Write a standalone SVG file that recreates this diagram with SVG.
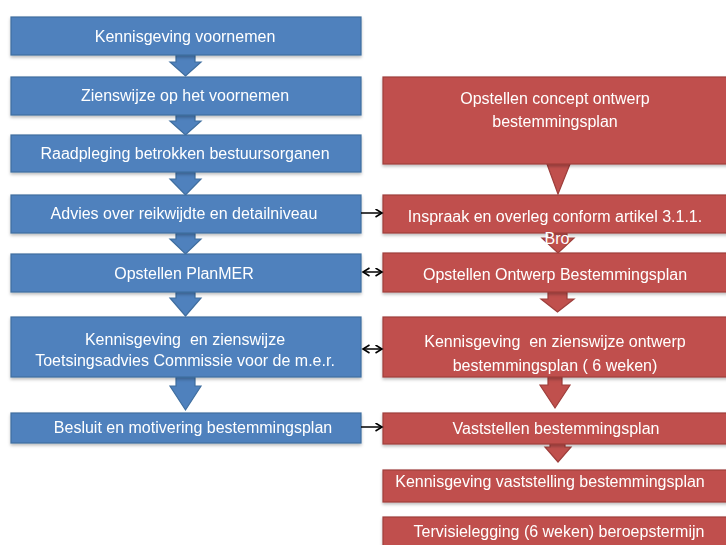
<svg xmlns="http://www.w3.org/2000/svg" width="726" height="545" viewBox="0 0 726 545">
<defs>
<style>
.b{fill:#4F81BD;stroke:#3F6E9F;stroke-width:1.2}
.r{fill:#C0504D;stroke:#9E3E3B;stroke-width:1.2}
.t{font-family:"Liberation Sans",Arial,sans-serif;font-size:16px;fill:#fff;text-anchor:middle;white-space:pre}
.c{stroke:#000;stroke-width:1.5;fill:none}
</style>
<marker id="ah" markerWidth="9" markerHeight="10" refX="7" refY="4.5" orient="auto-start-reverse" markerUnits="userSpaceOnUse">
<path d="M0.5,0.5 L7,4.5 L0.5,8.5" fill="none" stroke="#000" stroke-width="1.6"/>
</marker>
<filter id="sh" x="-5%" y="-20%" width="110%" height="150%">
<feDropShadow dx="0" dy="2" stdDeviation="1.5" flood-color="#000" flood-opacity="0.25"/>
</filter>
</defs>
<rect width="726" height="545" fill="#fff"/>

<g id="blue-arrows">
<path class="b" d="M176,55 H195 V62 H201 L185.5,76 L170,62 H176 Z"/>
<path class="b" d="M176,115 H195 V121 H201 L185.5,135 L170,121 H176 Z"/>
<path class="b" d="M176,172 H195 V179 H201 L185.5,195 L170,179 H176 Z"/>
<path class="b" d="M176,233 H195 V239 H201 L185.5,254 L170,239 H176 Z"/>
<path class="b" d="M176,292 H195 V298 H201 L185.5,316 L170,298 H176 Z"/>
<path class="b" d="M176,377 H195 V386 H201 L185.5,410 L170,386 H176 Z"/>
</g>

<g id="red-arrows">
<path class="r" d="M547,164 H570 L558,194 Z"/>
<path class="r" d="M549,233 H567 V238 H574 L558,253 L542,238 H549 Z"/>
<path class="r" d="M548,292 H567 V299 H574 L557.5,312 L541,299 H548 Z"/>
<path class="r" d="M548,377 H562 V385 H570 L555,408 L540,385 H548 Z"/>
<path class="r" d="M550,444 H565 V447 H571 L558,462 L545,447 H550 Z"/>
</g>

<g id="n1" filter="url(#sh)"><rect class="b" x="11" y="17" width="350" height="38"/><text class="t" x="185" y="42">Kennisgeving voornemen</text></g>
<g id="n2" filter="url(#sh)"><rect class="b" x="11" y="77" width="350" height="38"/><text class="t" x="185" y="101">Zienswijze op het voornemen</text></g>
<g id="n3" filter="url(#sh)"><rect class="b" x="11" y="135" width="350" height="37"/><text class="t" x="185" y="159">Raadpleging betrokken bestuursorganen</text></g>
<g id="n4" filter="url(#sh)"><rect class="b" x="11" y="195" width="350" height="38"/><text class="t" x="184" y="219">Advies over reikwijdte en detailniveau</text></g>
<g id="n5" filter="url(#sh)"><rect class="b" x="11" y="254" width="350" height="38"/><text class="t" x="184" y="279">Opstellen PlanMER</text></g>
<g id="n6" filter="url(#sh)"><rect class="b" x="11" y="317" width="350" height="60"/><text class="t" x="185" y="345" xml:space="preserve">Kennisgeving  en zienswijze</text><text class="t" x="185" y="366">Toetsingsadvies Commissie voor de m.e.r.</text></g>
<g id="n7" filter="url(#sh)"><rect class="b" x="11" y="413" width="350" height="30"/><text class="t" x="193" y="433">Besluit en motivering bestemmingsplan</text></g>

<g id="r1" filter="url(#sh)"><rect class="r" x="383" y="77" width="346" height="87"/><text class="t" x="555" y="104">Opstellen concept ontwerp</text><text class="t" x="555" y="127">bestemmingsplan</text></g>
<g id="r2" filter="url(#sh)"><rect class="r" x="383" y="195" width="346" height="38"/><text class="t" x="555" y="222">Inspraak en overleg conform artikel 3.1.1.</text></g>
<g id="r3" filter="url(#sh)"><rect class="r" x="383" y="253" width="346" height="39"/><text class="t" x="555" y="280">Opstellen Ontwerp Bestemmingsplan</text></g>
<g id="r4" filter="url(#sh)"><rect class="r" x="383" y="317" width="346" height="60"/><text class="t" x="555" y="347" xml:space="preserve">Kennisgeving  en zienswijze ontwerp</text><text class="t" x="555" y="371">bestemmingsplan ( 6 weken)</text></g>
<g id="r5" filter="url(#sh)"><rect class="r" x="383" y="413" width="346" height="31"/><text class="t" x="556" y="434">Vaststellen bestemmingsplan</text></g>
<g id="r6" filter="url(#sh)"><rect class="r" x="383" y="470" width="346" height="32"/><text class="t" x="550" y="487">Kennisgeving vaststelling bestemmingsplan</text></g>
<g id="r7" filter="url(#sh)"><rect class="r" x="383" y="517" width="346" height="40"/><text class="t" x="559" y="537">Tervisielegging (6 weken) beroepstermijn</text></g>

<text class="t" x="557" y="244">Bro</text>

<g id="connectors">
<line class="c" x1="361" y1="213" x2="382" y2="213" marker-end="url(#ah)"/>
<line class="c" x1="363" y1="272" x2="382" y2="272" marker-start="url(#ah)" marker-end="url(#ah)"/>
<line class="c" x1="363" y1="349" x2="382" y2="349" marker-start="url(#ah)" marker-end="url(#ah)"/>
<line class="c" x1="361" y1="427" x2="382" y2="427" marker-end="url(#ah)"/>
</g>
</svg>
